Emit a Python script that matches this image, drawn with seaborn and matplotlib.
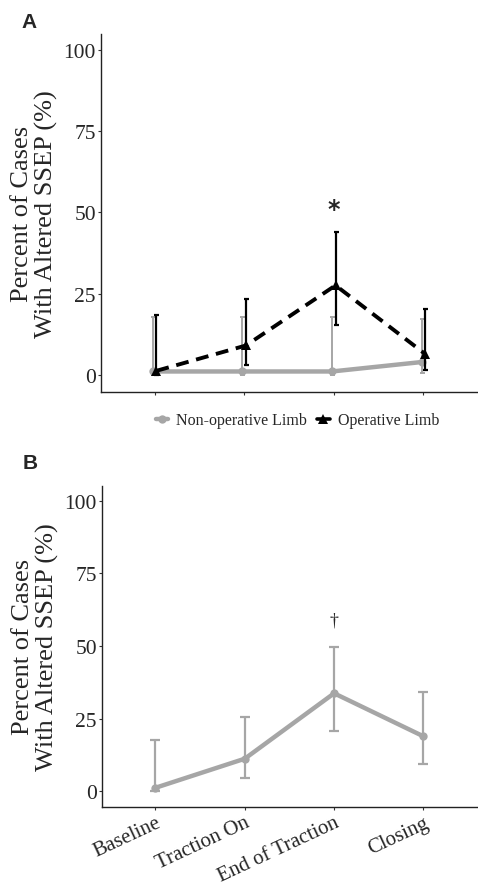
import numpy as np
import pandas as pd
import matplotlib
matplotlib.use("Agg")
import matplotlib.pyplot as plt
import seaborn as sns
from matplotlib.lines import Line2D

sns.set_theme(style="white")
plt.rcParams["font.family"] = ["Liberation Serif", "DejaVu Serif"]

# ─── Data ─────────────────────────────────────────────────────────
stages = ["Baseline", "Traction On", "End of Traction", "Closing"]

# Panel A
nonop_mean = [1.0, 1.0, 1.0, 3.9]
nonop_lo = [0.0, 0.0, 0.0, 0.6]
nonop_hi = [17.9, 17.9, 17.9, 17.0]

op_mean = [1.2, 9.0, 27.5, 6.4]
op_lo = [0.0, 2.9, 15.4, 1.6]
op_hi = [18.3, 23.4, 43.8, 20.2]

# Panel B
all_mean = [1.2, 11.2, 33.7, 18.9]
all_lo = [0.0, 4.4, 20.7, 9.3]
all_hi = [17.5, 25.5, 49.7, 34.1]

GRAY = "#A6A6A6"
BLACK = "#000000"
YTICKS = [0, 25, 50, 75, 100]
YLABEL = "Percent of Cases\nWith Altered SSEP (%)"

fig = plt.figure(figsize=(4.78, 8.87), dpi=100)
axA = fig.add_axes([0.211, 0.557, 0.787, 0.404])
axB = fig.add_axes([0.213, 0.0894, 0.785, 0.3616])

pos = np.arange(len(stages))
dodge = 0.02


def style_axis(ax):
    ax.set_xlim(-0.6, 3.6)
    ax.set_ylim(-5.3, 105)
    ax.set_yticks(YTICKS)
    ax.set_xticks(pos)
    for s in ["top", "right"]:
        ax.spines[s].set_visible(False)
    for s in ["left", "bottom"]:
        ax.spines[s].set_color("#222222")
        ax.spines[s].set_linewidth(1.0)
    ax.tick_params(axis="both", direction="out", length=2.5, width=0.8, pad=1,
                   color="#333333", labelsize=15.5, bottom=True, left=True)
    ax.set_ylabel(YLABEL, fontsize=19, linespacing=1.1, labelpad=4)
    ax.set_xlabel("")
    ax.grid(False)


# ─── Panel A ──────────────────────────────────────────────────────
dfA = pd.DataFrame({
    "x": np.concatenate([pos - dodge, pos + dodge]),
    "pct": nonop_mean + op_mean,
    "limb": ["Non-operative Limb"] * 4 + ["Operative Limb"] * 4,
})
sns.lineplot(data=dfA[dfA["limb"] == "Non-operative Limb"], x="x", y="pct",
             color=GRAY, linewidth=3.2, marker="o", markersize=6,
             markeredgewidth=0, ax=axA, zorder=2)
axA.errorbar(pos - dodge, nonop_mean,
             yerr=[np.subtract(nonop_mean, nonop_lo), np.subtract(nonop_hi, nonop_mean)],
             fmt="none", ecolor=GRAY, elinewidth=1.4, capsize=1.8, capthick=1.4, zorder=1)
sns.lineplot(data=dfA[dfA["limb"] == "Operative Limb"], x="x", y="pct",
             color=BLACK, linewidth=2.8, marker="^", markersize=7,
             markeredgewidth=0, ax=axA, zorder=4)
axA.lines[-1].set_dashes((3.3, 2.0))
axA.errorbar(pos + dodge, op_mean,
             yerr=[np.subtract(op_mean, op_lo), np.subtract(op_hi, op_mean)],
             fmt="none", ecolor=BLACK, elinewidth=1.6, capsize=1.8, capthick=1.6, zorder=3)
style_axis(axA)
axA.set_xticklabels([])
axA.text(pos[2], 51, "*", ha="center", va="center", fontsize=17,
         fontweight="bold", family=["DejaVu Sans"])

handles = [
    Line2D([0], [0], color=GRAY, linewidth=3.2, marker="o", markersize=6,
           markeredgewidth=0),
    Line2D([0], [0], color=BLACK, linewidth=2.6, marker="^", markersize=7,
           markeredgewidth=0),
]
fig.legend(handles, ["Non-operative Limb", "Operative Limb"], loc="center",
           bbox_to_anchor=(0.622, 0.525), ncol=2, frameon=False, fontsize=11.5,
           handlelength=0.8, handletextpad=0.5, columnspacing=0.6)

# ─── Panel B ──────────────────────────────────────────────────────
dfB = pd.DataFrame({"x": pos, "pct": all_mean})
sns.lineplot(data=dfB, x="x", y="pct", color=GRAY, linewidth=3.2, marker="o",
             markersize=6, markeredgewidth=0, ax=axB, zorder=2)
axB.errorbar(pos, all_mean,
             yerr=[np.subtract(all_mean, all_lo), np.subtract(all_hi, all_mean)],
             fmt="none", ecolor=GRAY, elinewidth=1.6, capsize=3.3, capthick=1.6, zorder=1)
style_axis(axB)
axB.set_xticklabels(stages, rotation=25, ha="right", rotation_mode="anchor")
axB.tick_params(axis="x", labelsize=15, pad=2)
axB.text(pos[2], 59, "\u2020", ha="center", va="center", fontsize=13)

# Panel letters
fig.text(0.045, 0.985, "A", fontsize=15, fontweight="bold",
         family=["Liberation Sans"], va="top", ha="left")
fig.text(0.047, 0.4885, "B", fontsize=15, fontweight="bold",
         family=["Liberation Sans"], va="top", ha="left")

fig.savefig("out.png", dpi=100)
